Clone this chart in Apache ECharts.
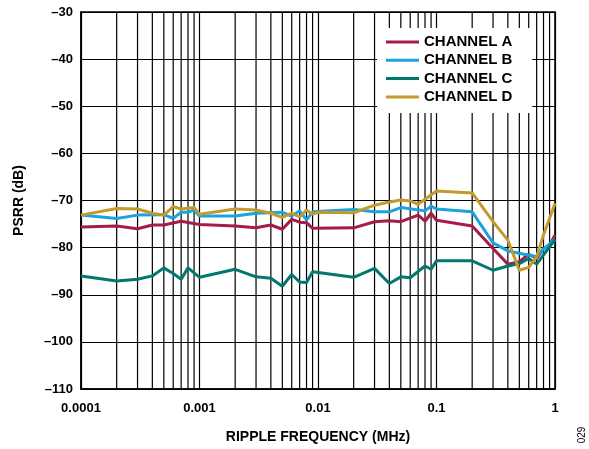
<!DOCTYPE html>
<html>
<head>
<meta charset="utf-8">
<script src="https://cdn.jsdelivr.net/npm/echarts@6/dist/echarts.min.js"></script>
<style>
html,body{margin:0;padding:0;background:#fff;}
#chart{width:589px;height:449px;}
</style>
</head>
<body>
<div id="chart"></div>
<script>
var seriesNames = ['CHANNEL A', 'CHANNEL B', 'CHANNEL C', 'CHANNEL D'];
var seriesColors = ['#a51c48', '#1aa3dc', '#00776f', '#c49a2c'];

var freqA = [0.0001,0.0002,0.0003,0.0004,0.0005,0.0007,0.001,0.002,0.003,0.004,0.005,0.006,0.007,0.008,0.009,0.02,0.03,0.04,0.05,0.07,0.08,0.09,0.1,0.2,0.3,0.4,0.5,0.6,0.7,0.8,0.9,1.0];
var valA  = [-75.6,-75.4,-76.0,-75.2,-75.2,-74.4,-75.1,-75.4,-75.8,-75.2,-76.1,-74.0,-74.6,-74.7,-75.9,-75.8,-74.5,-74.3,-74.5,-73.1,-74.4,-72.7,-74.2,-75.4,-80.2,-83.5,-83.0,-81.4,-82.3,-80.2,-79.5,-77.3];

var freqB = [0.0001,0.0002,0.0003,0.0005,0.0006,0.0007,0.0008,0.0009,0.001,0.002,0.003,0.005,0.006,0.007,0.008,0.009,0.02,0.03,0.04,0.05,0.08,0.09,0.1,0.2,0.3,0.4,0.5,0.6,0.7,0.8,1.0];
var valB  = [-73.1,-73.8,-73.1,-73.0,-73.8,-72.5,-72.5,-72.0,-73.3,-73.3,-72.7,-72.5,-73.3,-72.2,-74.1,-72.4,-71.9,-72.4,-72.4,-71.5,-72.2,-71.2,-71.8,-72.4,-79.0,-80.7,-81.2,-81.6,-81.9,-80.3,-78.2];

var freqC = [0.0001,0.0002,0.0003,0.0004,0.0005,0.0006,0.0007,0.0008,0.001,0.002,0.003,0.004,0.005,0.006,0.007,0.008,0.009,0.02,0.03,0.04,0.05,0.06,0.08,0.09,0.1,0.2,0.3,0.4,0.5,0.6,0.7,1.0];
var valC  = [-86.0,-87.1,-86.7,-86.0,-84.3,-85.5,-86.7,-84.3,-86.3,-84.6,-86.2,-86.5,-88.2,-85.7,-87.3,-87.4,-85.1,-86.3,-84.4,-87.6,-86.2,-86.4,-83.9,-84.6,-82.8,-82.8,-84.8,-83.9,-83.4,-82.3,-83.5,-78.3];

var freqD = [0.0001,0.0002,0.0003,0.0004,0.0005,0.0006,0.0007,0.0009,0.001,0.002,0.003,0.004,0.005,0.006,0.007,0.008,0.009,0.01,0.02,0.03,0.04,0.05,0.06,0.07,0.1,0.2,0.3,0.4,0.5,0.6,0.7,0.8,1.0];
var valD  = [-73.1,-71.7,-71.8,-72.7,-73.1,-71.3,-71.8,-71.5,-72.9,-71.8,-72.0,-72.7,-73.6,-72.7,-73.5,-72.0,-72.9,-72.5,-72.6,-71.0,-70.3,-69.9,-70.1,-70.8,-68.0,-68.4,-74.5,-78.4,-84.8,-84.2,-81.9,-77.3,-70.6];

var xTickLabels = ['0.0001', '0.001', '0.01', '0.1', '1'];
var yMin = -110, yMax = -30, yStep = 10;

function pairs(f, v) { return f.map(function (x, i) { return [x, v[i]]; }); }

// minor vertical grid lines at 2..9 per decade
var minorGrid = [];
[0.0001, 0.001, 0.01, 0.1].forEach(function (d) {
  for (var k = 2; k <= 9; k++) minorGrid.push([+(d * k).toPrecision(3)]);
});

var font = 'Liberation Sans, Arial, Helvetica, sans-serif';
var allData = [pairs(freqA, valA), pairs(freqB, valB), pairs(freqC, valC), pairs(freqD, valD)];

var series = [{
  name: 'grid',
  type: 'custom',
  data: minorGrid,
  z: 1,
  silent: true,
  animation: false,
  encode: { x: 0 },
  clip: true,
  renderItem: function (params, api) {
    var top = api.coord([api.value(0), yMax]);
    var bot = api.coord([api.value(0), yMin]);
    return {
      type: 'line',
      shape: { x1: top[0], y1: top[1], x2: bot[0], y2: bot[1] },
      style: { stroke: '#000', lineWidth: 1.2 }
    };
  }
}];
seriesNames.forEach(function (n, i) {
  series.push({
    name: n,
    type: 'line',
    data: allData[i],
    z: 3,
    showSymbol: false,
    symbol: 'none',
    lineStyle: { color: seriesColors[i], width: 3 },
    itemStyle: { color: seriesColors[i] },
    animation: false
  });
});

var chart = echarts.init(document.getElementById('chart'), null, { renderer: 'canvas' });
chart.setOption({
  animation: false,
  backgroundColor: '#fff',
  grid: { left: 81, right: 34, top: 12, bottom: 60, show: true, borderColor: '#000', borderWidth: 1.5, backgroundColor: 'transparent' },
  legend: {
    data: seriesNames,
    orient: 'vertical',
    left: 377,
    top: 28,
    z: 10,
    backgroundColor: '#fff',
    padding: [6, 20, 8, 9],
    itemWidth: 33,
    itemHeight: 3,
    itemGap: 2.3,
    icon: 'rect',
    textStyle: { fontFamily: font, fontSize: 15, fontWeight: 'bold', color: '#000', lineHeight: 16 }
  },
  xAxis: {
    type: 'log',
    logBase: 10,
    min: 0.0001,
    max: 1,
    name: 'RIPPLE FREQUENCY (MHz)',
    nameLocation: 'middle',
    nameGap: 41,
    nameTextStyle: { fontFamily: font, fontSize: 14, fontWeight: 'bold', color: '#000' },
    axisLine: { show: true, lineStyle: { color: '#000', width: 1.5 } },
    axisTick: { show: false },
    axisLabel: {
      fontFamily: font, fontSize: 13, fontWeight: 'bold', color: '#000', margin: 13,
      formatter: function (v) { var i = Math.round(Math.log10(v)) + 4; return xTickLabels[i]; }
    },
    splitLine: { show: true, lineStyle: { color: '#000', width: 1.2 } }
  },
  yAxis: {
    type: 'value',
    min: yMin,
    max: yMax,
    interval: yStep,
    name: 'PSRR (dB)',
    nameLocation: 'middle',
    nameGap: 55,
    nameTextStyle: { fontFamily: font, fontSize: 14, fontWeight: 'bold', color: '#000' },
    axisLine: { show: true, lineStyle: { color: '#000', width: 1.5 } },
    axisTick: { show: false },
    axisLabel: {
      fontFamily: font, fontSize: 13, fontWeight: 'bold', color: '#000', margin: 8,
      formatter: function (v) { return v < 0 ? '\u2013' + Math.abs(v) : String(v); }
    },
    splitLine: { show: true, lineStyle: { color: '#000', width: 1.2 } }
  },
  graphic: [{
    type: 'text',
    x: 582,
    y: 435,
    rotation: Math.PI / 2,
    style: { text: '029', fontFamily: font, fontSize: 10, fill: '#000', align: 'center', verticalAlign: 'middle' }
  }],
  series: series
});
</script>
</body>
</html>
